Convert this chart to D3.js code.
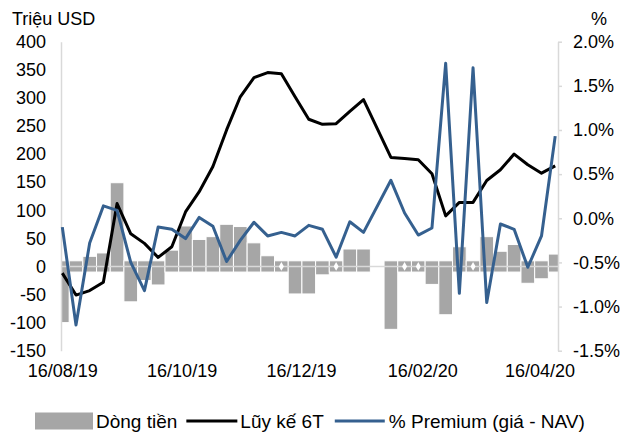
<!DOCTYPE html>
<html>
<head>
<meta charset="utf-8">
<script src="https://cdn.jsdelivr.net/npm/d3@7"></script>
<style>
  html, body { margin: 0; padding: 0; background: #fff; }
  svg { display: block; }
  text { font-family: "Liberation Sans", Arial, sans-serif; fill: #000; }
</style>
</head>
<body>
<svg id="chart" width="622" height="438"></svg>
<script>
// ---- data (weekly; week of 24/01/20 missing - Tet holiday) ----
const dates = [
  "2019-08-16","2019-08-23","2019-08-30","2019-09-06","2019-09-13","2019-09-20",
  "2019-09-27","2019-10-04","2019-10-11","2019-10-18","2019-10-25","2019-11-01",
  "2019-11-08","2019-11-15","2019-11-22","2019-11-29","2019-12-06","2019-12-13",
  "2019-12-20","2019-12-27","2020-01-03","2020-01-10","2020-01-17",
  "2020-01-31","2020-02-07","2020-02-14","2020-02-21","2020-02-28","2020-03-06",
  "2020-03-13","2020-03-20","2020-03-27","2020-04-03","2020-04-10","2020-04-17",
  "2020-04-24"
];
const flows = [
  -100, 7, 18, 24, 149, -63, -25, -33, 29, 72, 48, 53, 75, 71, 42, 19, -3, -49,
  -49, -15, 3, 31, 31,
  -112, -3, -4, -32, -86, 35, 2, 53, 27, 39, -30, -22, 22
];
const cumulative6T = [
  -12, -51, -43, -28, 112, 58, 41, 16, 35, 97, 133, 178, 243, 302, 336, 345, 343, 302,
  262, 253, 254, 276, 297,
  194, 192, 190, 165, 90, 114, 114, 153, 172, 200, 181, 166, 179
];
const premium = [
  -0.10, -1.21, -0.28, 0.14, 0.09, -0.50, -0.82, -0.10, -0.125, -0.23, 0.01, -0.09,
  -0.49, -0.25, -0.045, -0.20, -0.16, -0.20, -0.08, -0.125, -0.44, -0.04, -0.16,
  0.43, 0.06, -0.19, -0.11, 1.755, -0.85, 1.705, -0.955, -0.065, -0.125, -0.555, -0.20, 0.93
];
const xTickDates = ["2019-08-16","2019-10-16","2019-12-16","2020-02-16","2020-04-16"];
const leftTicks = [400, 350, 300, 250, 200, 150, 100, 50, 0, -50, -100, -150];
const rightTicks = [2.0, 1.5, 1.0, 0.5, 0.0, -0.5, -1.0, -1.5];
const seriesNames = ["Dòng tiền", "Lũy kế 6T", "% Premium (giá - NAV)"];
const leftTitle = "Triệu USD";
const rightTitle = "%";

// ---- setup ----
const parse = d3.utcParse("%Y-%m-%d");
const fmtDate = d3.utcFormat("%d/%m/%y");
const loc = d3.formatLocale({decimal: ".", thousands: ",", grouping: [3], currency: ["", ""], minus: "-"});
const fmtL = loc.format("d");
const fmtR = v => loc.format(".1f")(v) + "%";

const data = dates.map((d, i) => ({date: parse(d), flow: flows[i], cum: cumulative6T[i], prem: premium[i]}));

const plot = {left: 61, right: 558, top: 41.7, bottom: 350.7};
const x = d3.scaleUtc()
  .domain(d3.extent(data, d => d.date))
  .range([62.3, 555.2]);
const yL = d3.scaleLinear().domain([-150, 400]).range([plot.bottom, plot.top]);
const yR = d3.scaleLinear().domain([-1.5, 2.0]).range([plot.bottom, plot.top]);

const svg = d3.select("#chart");
const FS = 18;
const LFS = 19;
const BLUE = "#35608f";

svg.append("defs").append("clipPath").attr("id", "plotclip")
  .append("rect").attr("x", plot.left).attr("y", 0)
  .attr("width", plot.right - plot.left).attr("height", 438);

const week = 7 * 24 * 3600 * 1000;
const barW = x(new Date(data[0].date.getTime() + week)) - x(data[0].date);

// bars
const gBars = svg.append("g").attr("clip-path", "url(#plotclip)");
gBars.selectAll("rect").data(data).join("rect")
  .attr("x", d => x(d.date) - barW / 2)
  .attr("width", barW)
  .attr("y", d => yL(Math.max(d.flow, 10)))
  .attr("height", d => yL(Math.min(d.flow, -10)) - yL(Math.max(d.flow, 10)))
  .attr("fill", "#a6a6a6")
  .attr("stroke", "#fff")
  .attr("stroke-width", 1);

// zero line
svg.append("line")
  .attr("x1", plot.left).attr("x2", plot.right)
  .attr("y1", yL(0)).attr("y2", yL(0))
  .attr("stroke", "#d9d9d9").attr("stroke-width", 1.5);

// small markers on near-zero bars
svg.append("g").selectAll("path").data(data.filter(d => Math.abs(d.flow) < 5)).join("path")
  .attr("d", d3.symbol(d3.symbolDiamond, 22))
  .attr("transform", d => `translate(${x(d.date)},${yL(0)})`)
  .attr("fill", "#fff");

// left axis
const axL = svg.append("g").attr("transform", `translate(${plot.left},0)`)
  .call(d3.axisLeft(yL).tickValues(leftTicks).tickFormat(fmtL).tickSize(0).tickPadding(15));
axL.select(".domain").attr("stroke", "#d9d9d9").attr("stroke-width", 1.5);
axL.selectAll("text").attr("font-size", FS).attr("font-family", "Liberation Sans").attr("fill", "#000");

// right axis
const axR = svg.append("g").attr("transform", `translate(${plot.right},0)`)
  .call(d3.axisRight(yR).tickValues(rightTicks).tickFormat(fmtR).tickSizeInner(4).tickSizeOuter(0).tickPadding(11));
axR.select(".domain").attr("stroke", "#d9d9d9").attr("stroke-width", 1.5);
axR.selectAll("line").attr("stroke", "#d9d9d9").attr("stroke-width", 1.5);
axR.selectAll("text").attr("font-size", FS).attr("font-family", "Liberation Sans").attr("fill", "#000");

// x axis labels
const axX = svg.append("g").attr("transform", `translate(0,${plot.bottom})`)
  .call(d3.axisBottom(x).tickValues(xTickDates.map(parse)).tickFormat(fmtDate).tickSize(0).tickPadding(14));
axX.select(".domain").remove();
axX.selectAll("text").attr("font-size", FS).attr("font-family", "Liberation Sans").attr("fill", "#000");

// lines
const lineCum = d3.line().x(d => x(d.date)).y(d => yL(d.cum));
const linePrem = d3.line().x(d => x(d.date)).y(d => yR(d.prem));
svg.append("path").datum(data).attr("d", lineCum)
  .attr("fill", "none").attr("stroke", "#000").attr("stroke-width", 3).attr("stroke-linejoin", "round");
svg.append("path").datum(data).attr("d", linePrem)
  .attr("fill", "none").attr("stroke", BLUE).attr("stroke-width", 3).attr("stroke-linejoin", "round");

// axis titles
svg.append("text").attr("x", 12).attr("y", 24.5).attr("font-size", FS).text(leftTitle);
svg.append("text").attr("x", 607).attr("y", 24.5).attr("font-size", FS).attr("text-anchor", "end").text(rightTitle);

// legend
const lg = svg.append("g").attr("transform", "translate(0,421)");
let lx = 35;
lg.append("rect").attr("x", lx).attr("y", -8.5).attr("width", 58).attr("height", 17).attr("fill", "#a6a6a6");
lx = 96;
let t1 = lg.append("text").attr("x", lx).attr("y", 7).attr("font-size", LFS).text(seriesNames[0]);
lx += t1.node().getComputedTextLength() + 9;
lg.append("line").attr("x1", lx).attr("x2", lx + 51).attr("stroke", "#000").attr("stroke-width", 3);
lx += 54;
let t2 = lg.append("text").attr("x", lx).attr("y", 7).attr("font-size", LFS).text(seriesNames[1]);
lx += t2.node().getComputedTextLength() + 11;
lg.append("line").attr("x1", lx).attr("x2", lx + 50).attr("stroke", BLUE).attr("stroke-width", 3);
lx += 54;
lg.append("text").attr("x", lx).attr("y", 7).attr("font-size", LFS).text(seriesNames[2]);
</script>
</body>
</html>
